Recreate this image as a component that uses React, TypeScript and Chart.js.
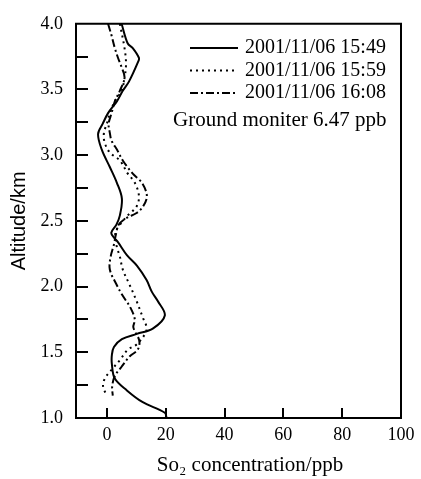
import { useEffect, useRef } from 'react';
import { Chart, registerables } from 'chart.js';

Chart.register(...registerables);

// ---- Data ----
const seriesLabels = ['2001/11/06 15:49', '2001/11/06 15:59', '2001/11/06 16:08'];

const alt1549 = [4.0, 3.85, 3.815, 3.74, 3.71, 3.56, 3.49, 3.41, 3.32, 3.24, 3.16, 3.04, 2.91, 2.79, 2.67, 2.54, 2.47, 2.41, 2.37, 2.34, 2.24, 2.16, 2.05, 1.96, 1.89, 1.78, 1.68, 1.64, 1.60, 1.54, 1.48, 1.41, 1.30, 1.21, 1.12, 1.04, 1.0];
const so2_1549 = [5.0, 7.1, 8.8, 10.9, 10.6, 7.5, 5.4, 3.4, 0.4, -1.4, -3.0, -1.7, 1.0, 3.4, 5.1, 4.4, 3.2, 1.5, 2.5, 3.7, 6.8, 10.2, 13.5, 15.3, 17.3, 19.7, 15.6, 10.2, 5.1, 2.4, 1.7, 1.7, 2.7, 6.8, 12.2, 19.7, 20.3];

const alt1559 = [4.0, 3.815, 3.69, 3.56, 3.49, 3.41, 3.32, 3.24, 3.17, 3.10, 3.02, 2.96, 2.86, 2.79, 2.69, 2.61, 2.54, 2.49, 2.42, 2.36, 2.30, 2.23, 2.13, 2.01, 1.89, 1.76, 1.69, 1.64, 1.56, 1.52, 1.44, 1.37, 1.30, 1.24, 1.17];
const so2_1559 = [4.4, 6.0, 6.5, 5.8, 5.0, 2.7, 1.0, 0.0, -1.0, -0.8, 1.0, 4.4, 7.1, 9.5, 10.9, 10.1, 7.0, 5.1, 3.0, 3.0, 3.4, 4.4, 5.4, 7.8, 10.1, 12.3, 13.5, 13.0, 10.1, 7.1, 4.4, 1.7, -0.7, -1.3, 0.0];

const alt1608 = [4.0, 3.91, 3.815, 3.74, 3.67, 3.59, 3.49, 3.41, 3.32, 3.24, 3.17, 3.11, 3.04, 2.96, 2.86, 2.79, 2.69, 2.61, 2.56, 2.52, 2.47, 2.39, 2.32, 2.23, 2.13, 2.01, 1.93, 1.84, 1.75, 1.69, 1.59, 1.52, 1.47, 1.39, 1.32, 1.24, 1.17];
const so2_1608 = [0.4, 1.6, 2.7, 3.8, 5.0, 6.0, 4.4, 2.7, 1.6, 0.6, 1.0, 1.6, 3.5, 5.4, 8.8, 11.9, 13.6, 12.3, 10.1, 6.5, 4.0, 3.0, 2.4, 1.3, 1.0, 3.4, 5.4, 8.0, 9.5, 9.0, 11.0, 10.5, 7.8, 5.0, 2.7, 1.8, 2.0];

const xTickValues = [0, 20, 40, 60, 80, 100];
const yTickValues = [1.0, 1.5, 2.0, 2.5, 3.0, 3.5, 4.0];
const yTickMarks = [1.25, 1.5, 1.75, 2.0, 2.25, 2.5, 2.75, 3.0, 3.25, 3.5, 3.75];

const groundNote = 'Ground moniter 6.47 ppb';
const xTitle = 'So\u2082 concentration/ppb';
const yTitle = 'Altitude/km';

const dashes = [[], [2, 4], [8, 3, 2, 3]];

const SERIF = '"Liberation Serif", "Times New Roman", serif';
const SANS = '"Liberation Sans", Arial, sans-serif';

const overlayPlugin = {
  id: 'overlay',
  afterDraw(chart: any) {
    const { ctx, chartArea: a, scales } = chart;
    const xs = scales.x;
    const ys = scales.y;
    ctx.save();
    ctx.strokeStyle = '#000';
    ctx.fillStyle = '#000';
    ctx.lineWidth = 2;
    ctx.setLineDash([]);
    // frame top & right
    ctx.beginPath();
    ctx.moveTo(a.left - 1, a.top);
    ctx.lineTo(a.right, a.top);
    ctx.lineTo(a.right, a.bottom + 1);
    ctx.stroke();
    // inside ticks
    ctx.beginPath();
    for (const v of yTickMarks) {
      const py = Math.round(ys.getPixelForValue(v));
      ctx.moveTo(a.left, py);
      ctx.lineTo(a.left + 12, py);
    }
    for (const v of xTickValues) {
      const px = Math.round(xs.getPixelForValue(v));
      ctx.moveTo(px, a.bottom);
      ctx.lineTo(px, a.bottom - 10);
    }
    ctx.stroke();
    // legend
    ctx.font = '20px ' + SERIF;
    ctx.textBaseline = 'middle';
    ctx.textAlign = 'left';
    chart.data.datasets.forEach((ds: any, i: number) => {
      const y = 48 + i * 22.5;
      ctx.beginPath();
      ctx.setLineDash(ds.borderDash || []);
      ctx.lineWidth = 2;
      ctx.moveTo(190, y);
      ctx.lineTo(238, y);
      ctx.stroke();
      ctx.fillText(ds.label, 245, y);
    });
    ctx.setLineDash([]);
    ctx.font = '21px ' + SERIF;
    ctx.fillText(groundNote, 173, 120);
    // x-axis title
    ctx.textAlign = 'center';
    ctx.fillText(xTitle, 250, 465);
    ctx.restore();
  },
};

export default function App() {
  const ref = useRef<HTMLCanvasElement | null>(null);
  useEffect(() => {
    if (!ref.current) return;
    const alts = [alt1549, alt1559, alt1608];
    const vals = [so2_1549, so2_1559, so2_1608];
    const chart = new Chart(ref.current, {
      type: 'line',
      data: {
        datasets: seriesLabels.map((label, i) => ({
          label,
          data: alts[i].map((a, j) => ({ x: vals[i][j], y: a })),
          borderColor: '#000',
          backgroundColor: '#000',
          borderWidth: 2,
          borderDash: dashes[i],
          pointRadius: 0,
          tension: 0.35,
          fill: false,
        })),
      },
      options: {
        animation: false,
        responsive: false,
        devicePixelRatio: 1,
        layout: { padding: { top: 13, right: 20, bottom: 0, left: 0 } },
        plugins: { legend: { display: false }, tooltip: { enabled: false } },
        scales: {
          x: {
            type: 'linear',
            min: -10.5,
            max: 100,
            afterBuildTicks: (s: any) => { s.ticks = xTickValues.map((v) => ({ value: v })); },
            afterFit: (s: any) => { s.height = 61; },
            grid: { display: false, drawTicks: false },
            border: { display: true, color: '#000', width: 2 },
            ticks: { color: '#000', font: { family: SERIF, size: 18 }, padding: 6, maxRotation: 0, autoSkip: false },
            title: { display: false },
          },
          y: {
            type: 'linear',
            min: 1,
            max: 4,
            afterBuildTicks: (s: any) => { s.ticks = yTickValues.map((v) => ({ value: v })); },
            afterFit: (s: any) => { s.width = 76; },
            grid: { display: false, drawTicks: false },
            border: { display: true, color: '#000', width: 2 },
            ticks: { color: '#000', font: { family: SERIF, size: 18 }, padding: 13, autoSkip: false, callback: (v: any) => Number(v).toFixed(1) },
            title: { display: true, text: yTitle, color: '#000', font: { family: SANS, size: 20 }, padding: { top: 7, bottom: 0 } },
          },
        },
      },
      plugins: [overlayPlugin],
    } as any);
    return () => chart.destroy();
  }, []);
  return (
    <div style={{ position: 'fixed', left: 0, top: 0, width: 421, height: 479, background: '#fff' }}>
      <canvas ref={ref} width={421} height={479} style={{ display: 'block', width: 421, height: 479 }} />
    </div>
  );
}
